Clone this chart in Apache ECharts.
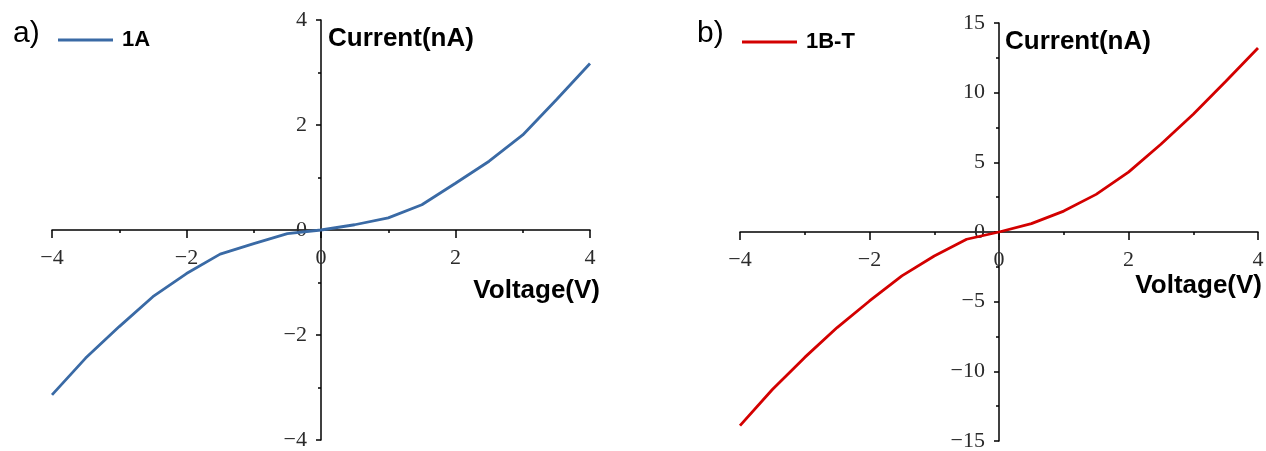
<!DOCTYPE html>
<html>
<head>
<meta charset="utf-8">
<script src="https://cdn.jsdelivr.net/npm/echarts@6/dist/echarts.min.js"></script>
<style>
html,body{margin:0;padding:0;background:#fff;}
#chart{width:1266px;height:451px;}
</style>
</head>
<body>
<div id="chart"></div>
<script>
// Data
const voltage = [-4, -3.5, -3, -2.5, -2, -1.5, -1, -0.5, 0, 0.5, 1, 1.5, 2, 2.5, 3, 3.5, 4];
const current1A = [-3.14, -2.44, -1.84, -1.27, -0.83, -0.46, -0.26, -0.07, 0, 0.1, 0.23, 0.48, 0.89, 1.31, 1.81, 2.48, 3.17];
const current1BT = [-13.9, -11.3, -9.0, -6.86, -4.95, -3.15, -1.72, -0.52, 0, 0.6, 1.5, 2.7, 4.3, 6.3, 8.45, 10.8, 13.2];
const seriesNames = ['1A', '1B-T'];
const panelLabels = ['a)', 'b)'];
const xAxisName = 'Voltage(V)';
const yAxisName = 'Current(nA)';
const xRange = [-4, 4, 2];
const yRangeA = [-4, 4, 2];
const yRangeB = [-15, 15, 5];

const W = 1266, H = 451;
const grids = [
  { left: 52, right: 676, top: 20, bottom: 11 },
  { left: 740, right: 8, top: 23, bottom: 10 }
];

const chart = echarts.init(document.getElementById('chart'));
const minusFmt = v => String(v).replace('-', '\u2212');
const tickFont = { fontFamily: 'Liberation Serif', fontSize: 22, color: '#2a2a2a' };
const nameFont = { fontFamily: 'Liberation Sans', fontWeight: 'bold', fontSize: 26, color: '#000' };
const lineStyleAxis = { color: '#000', width: 1.5 };

// offset that puts an axis at the other axis's zero
function xOffset(g, yr) {
  const h = H - g.top - g.bottom;
  return -((0 - yr[0]) / (yr[1] - yr[0])) * h;
}
function yOffset(g, xr) {
  const w = W - g.left - g.right;
  return -((0 - xr[0]) / (xr[1] - xr[0])) * w;
}

function makeX(idx, yr, gap, padTop) {
  return {
    type: 'value', gridIndex: idx, min: xRange[0], max: xRange[1], interval: xRange[2],
    position: 'bottom', offset: xOffset(grids[idx], yr),
    name: xAxisName, nameLocation: 'end', nameGap: gap, nameMoveOverlap: false,
    nameTextStyle: Object.assign({ align: 'right', verticalAlign: 'top', padding: [padTop, 0, 0, 0] }, nameFont),
    axisLine: { onZero: false, lineStyle: lineStyleAxis },
    axisTick: { show: true, length: 8, lineStyle: { color: '#000', width: 1.5 } },
    minorTick: { show: true, splitNumber: 2, length: 3, lineStyle: { color: '#000', width: 1.5 } },
    splitLine: { show: false },
    axisLabel: Object.assign({ margin: 17, formatter: minusFmt }, tickFont)
  };
}
function makeY(idx, range, padTop, padLeft) {
  return {
    type: 'value', gridIndex: idx, min: range[0], max: range[1], interval: range[2],
    position: 'left', offset: yOffset(grids[idx], xRange),
    name: yAxisName, nameLocation: 'end', nameGap: 0, nameMoveOverlap: false,
    nameTextStyle: Object.assign({ align: 'left', verticalAlign: 'top', padding: [padTop, 0, 0, padLeft] }, nameFont),
    axisLine: { onZero: false, lineStyle: lineStyleAxis },
    axisTick: { show: true, length: 5, lineStyle: { color: '#000', width: 1.5 } },
    minorTick: { show: true, splitNumber: 2, length: 3, lineStyle: { color: '#000', width: 1.5 } },
    splitLine: { show: false },
    axisLabel: Object.assign({ margin: 14, formatter: minusFmt }, tickFont)
  };
}

const option = {
  animation: false,
  backgroundColor: '#fff',
  title: [
    { text: panelLabels[0], left: 8, top: 14, textStyle: { fontFamily: 'Liberation Sans', fontWeight: 'normal', fontSize: 30, color: '#000' } },
    { text: panelLabels[1], left: 692, top: 14, textStyle: { fontFamily: 'Liberation Sans', fontWeight: 'normal', fontSize: 30, color: '#000' } }
  ],
  legend: [
    { data: [seriesNames[0]], left: 53, top: 24, icon: 'rect', itemWidth: 55, itemHeight: 3,
      textStyle: { fontFamily: 'Liberation Sans', fontWeight: 'bold', fontSize: 22, color: '#000', padding: [0, 0, 0, 4] } },
    { data: [seriesNames[1]], left: 737, top: 26, icon: 'rect', itemWidth: 55, itemHeight: 3,
      textStyle: { fontFamily: 'Liberation Sans', fontWeight: 'bold', fontSize: 22, color: '#000', padding: [0, 0, 0, 4] } }
  ],
  grid: grids.map(g => Object.assign({ outerBoundsMode: 'none', containLabel: false }, g)),
  xAxis: [makeX(0, yRangeA, 10, 48), makeX(1, yRangeB, 4, 41)],
  yAxis: [makeY(0, yRangeA, 6, 7), makeY(1, yRangeB, 6, 6)],
  series: [
    { name: seriesNames[0], type: 'line', xAxisIndex: 0, yAxisIndex: 0, symbol: 'none', showSymbol: false,
      color: '#3A6AA5', lineStyle: { width: 2.8, color: '#3A6AA5' },
      data: voltage.map((v, i) => [v, current1A[i]]) },
    { name: seriesNames[1], type: 'line', xAxisIndex: 1, yAxisIndex: 1, symbol: 'none', showSymbol: false,
      color: '#D30000', lineStyle: { width: 2.8, color: '#D30000' },
      data: voltage.map((v, i) => [v, current1BT[i]]) }
  ]
};
chart.setOption(option);
</script>
</body>
</html>
